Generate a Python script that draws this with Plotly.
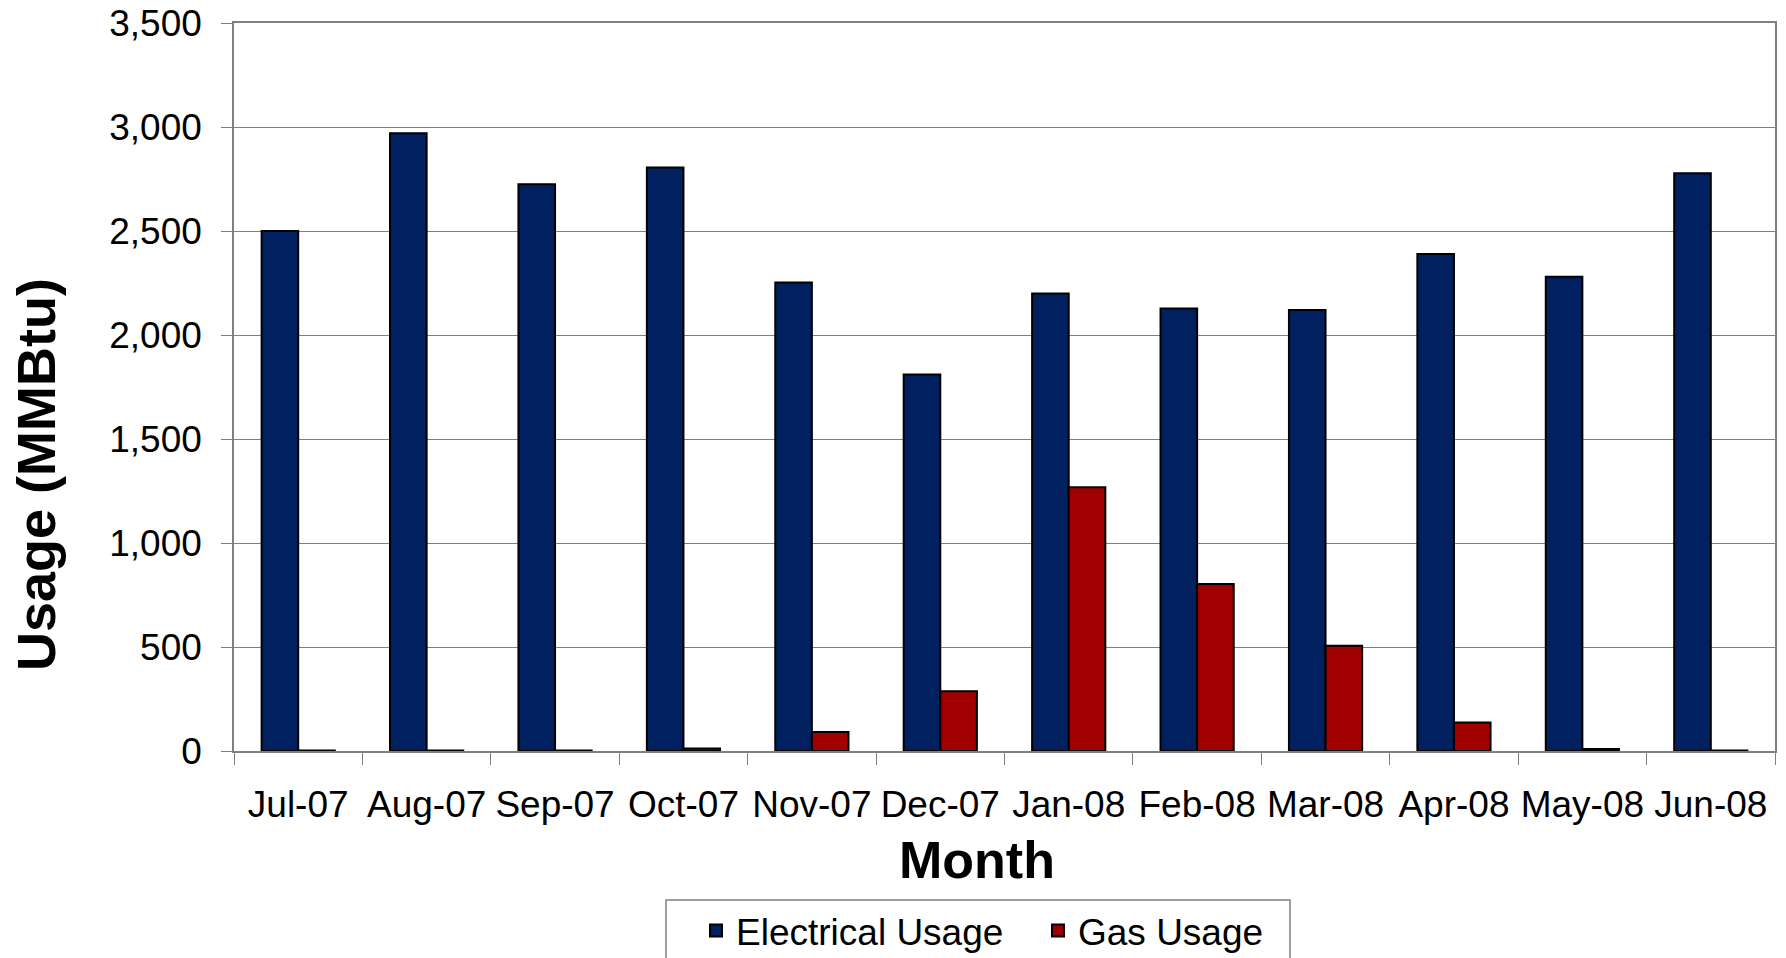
import plotly.graph_objects as go

months = ["Jul-07", "Aug-07", "Sep-07", "Oct-07", "Nov-07", "Dec-07",
          "Jan-08", "Feb-08", "Mar-08", "Apr-08", "May-08", "Jun-08"]
electrical = [2500, 2970, 2725, 2805, 2253, 1810, 2200, 2127, 2120, 2389, 2280, 2778]
gas = [3, 3, 3, 12, 91, 287, 1268, 803, 506, 137, 10, 3]
y_ticks = [0, 500, 1000, 1500, 2000, 2500, 3000, 3500]

FONT = "Arial, Liberation Sans, sans-serif"
OFF = 8  # default page body margin
W, H = 1778, 950
# plot area in page pixels
PL, PR, PT, PB = 234, 1775, 23, 751
L = PL - OFF
T = PT - OFF
R = W - (PR - OFF)
B = H - (PB - OFF)

fig = go.Figure()
fig.add_trace(go.Bar(name="Electrical Usage", x=months, y=electrical,
                     marker=dict(color="#002060", line=dict(color="black", width=2))))
fig.add_trace(go.Bar(name="Gas Usage", x=months, y=gas,
                     marker=dict(color="#A00000", line=dict(color="black", width=2))))

pw = PR - PL
ph = PB - PT


def px_x(x):
    return (x - PL) / pw


def px_y(y):
    return (PB - y) / ph


fig.update_layout(
    width=W, height=H,
    margin=dict(l=L, r=R, t=T, b=B, pad=0, autoexpand=False),
    paper_bgcolor="white", plot_bgcolor="white",
    barmode="group", bargap=0.43, bargroupgap=0,
    font=dict(family=FONT, color="black", size=37),
    showlegend=True,
    legend=dict(orientation="h", x=px_x(696), xanchor="left",
                y=px_y(900), yanchor="top",
                bgcolor="rgba(0,0,0,0)", borderwidth=0,
                font=dict(size=37, family=FONT), entrywidth=297,
                itemsizing="constant"),
    xaxis=dict(showgrid=False, ticks="outside", tickson="boundaries",
               ticklen=12, tickcolor="#808080", tickwidth=1, tickangle=0,
               showline=True, linecolor="#808080", linewidth=1.5, mirror=True,
               tickfont=dict(size=37), ticklabelstandoff=20, automargin=False),
    yaxis=dict(range=[0, 3500], tickvals=y_ticks, tickformat=",",
               showgrid=True, gridcolor="#808080", gridwidth=1,
               ticks="outside", ticklen=11, tickcolor="#808080", tickwidth=1,
               showline=True, linecolor="#808080", linewidth=1.5, mirror=True,
               zeroline=False, tickfont=dict(size=37), ticklabelstandoff=12,
               ticklabeloverflow="allow", automargin=False),
    shapes=[
        dict(type="rect", xref="paper", yref="paper",
             x0=px_x(666), x1=px_x(1290), y0=px_y(900), y1=px_y(975),
             line=dict(color="#808080", width=1.5), fillcolor="rgba(0,0,0,0)"),
    ],
    annotations=[
        dict(text="<b>Usage (MMBtu)</b>", textangle=-90, xref="paper", yref="paper",
             x=px_x(36), y=px_y(475), xanchor="center", yanchor="middle",
             showarrow=False, font=dict(size=54, family=FONT)),
        dict(text="<b>Month</b>", xref="paper", yref="paper",
             x=px_x(977), y=px_y(860), xanchor="center", yanchor="middle",
             showarrow=False, font=dict(size=52, family=FONT)),
    ],
)

fig.write_html("out.html")
